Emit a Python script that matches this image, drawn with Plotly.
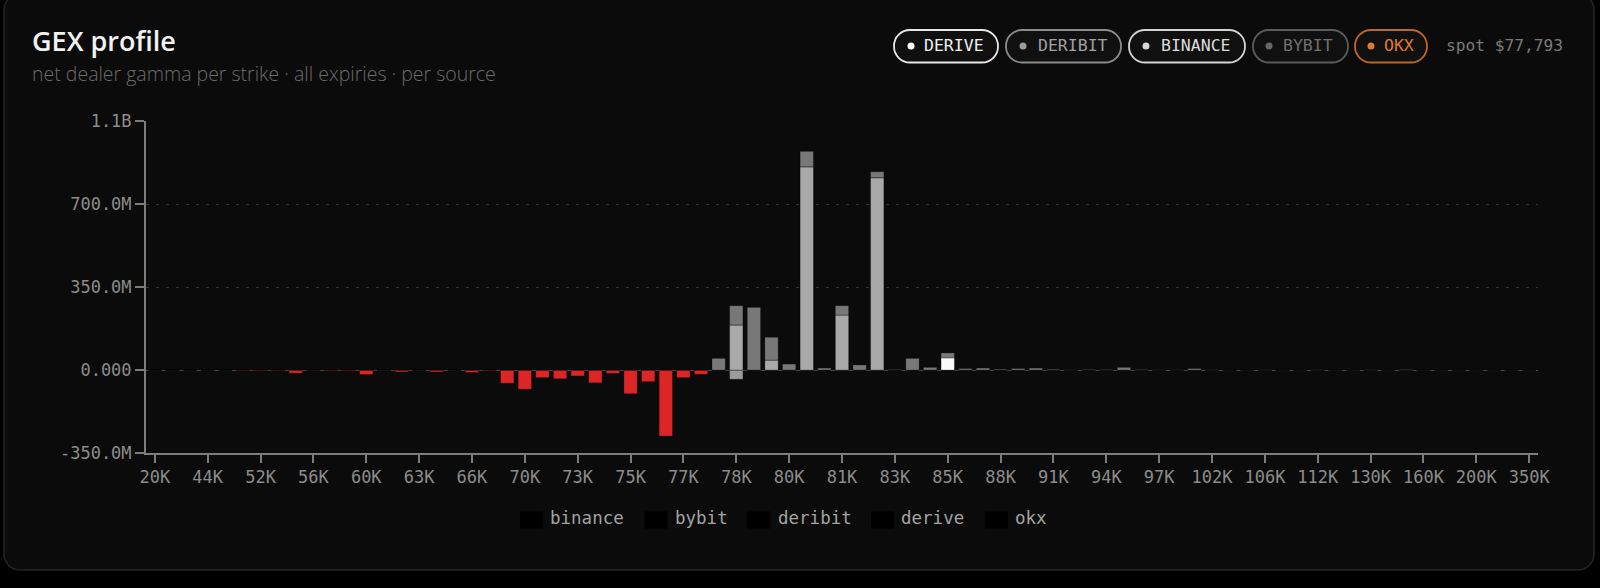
import plotly.graph_objects as go

# ---------------- data ----------------
strikes = [20000, 30000, 40000, 44000, 48000, 50000, 52000, 54000, 55000, 56000,
           57000, 58000, 60000, 61000, 62000, 63000, 64000, 65000, 66000, 68000,
           69000, 70000, 71000, 72000, 73000, 74000, 74500, 75000, 75500, 76000,
           77000, 77500, 78000, 78500, 79000, 79500, 80000, 80500, 81000, 81500,
           82000, 82500, 83000, 84000, 84500, 85000, 86000, 87000, 88000, 89000,
           90000, 91000, 92000, 93000, 94000, 95000, 96000, 97000, 98000, 100000,
           102000, 104000, 105000, 106000, 108000, 110000, 112000, 115000, 120000, 130000,
           140000, 150000, 160000, 170000, 180000, 200000, 250000, 300000, 350000]

x_tick_labels = ["20K", "44K", "52K", "56K", "60K", "63K", "66K", "70K", "73K", "75K",
                 "77K", "78K", "80K", "81K", "83K", "85K", "88K", "91K", "94K", "97K",
                 "102K", "106K", "112K", "130K", "160K", "200K", "350K"]

# net dealer gamma per source, in millions (USD)
binance = [0] * 33 + [-39] + [0] * 45
bybit = [0] * 79
deribit = [0, 0, 0, 0, 0, -3, -4, -3, -13, -1,
           -4, -4, -19, -1, -8, -1, -8, -1, -10, -4,
           -56, -81, -32, -37, -25, -54, -14, -100, -49, -278,
           -32, -18, 0, 190, 0, 42, 0, 857, 0, 232,
           0, 811, 0, 0, 0, 0, 0, 0, 0, 0,
           0, 0, 0, 0, 0, 0, 0, 0, 0, 0,
           0, 0, 0, 0, 0, 0, 0, 0, 0, 0,
           0, 0, 0, 0, 0, 0, 0, 0, 0]
derive = [0] * 45 + [51] + [0] * 33
okx = [0, 0, 0, 0, 0, 0, 0, 0, 0, 0,
       0, 0, 0, 0, 0, 0, 0, 0, 0, 0,
       0, 0, 0, 0, 0, 0, 0, 0, 0, 0,
       0, 0, 49, 81, 264, 96, 25, 65, 8, 39,
       21, 25, 2, 49, 11, 21, 6, 8, 3, 6,
       8, 3, 1, 2, 2, 11, 2, 1, 1, 6,
       1, 0.5, 0.5, 1, 0.5, 0.5, 1, 0.5, 0.5, 1,
       0.5, 2, 0.5, 0.5, 0.5, 0.5, 0.5, 0.5, 0.5]

source_names = ["binance", "bybit", "deribit", "derive", "okx"]
source_values = [binance, bybit, deribit, derive, okx]
source_colors = ["#9c9c9c", "#5a5a5a", "#a9a9a9", "#fafafa", "#787878"]
NEG_COLOR = "#dc2626"

spot_text = "spot $77,793"
pill_labels = ["DERIVE", "DERIBIT", "BINANCE", "BYBIT", "OKX"]

# ---------------- geometry helpers ----------------
W, H = 1600, 588
ML, MR, MT, MB = 146, 62, 121, 135
PW, PH = W - ML - MR, H - MT - MB


def X(px):
    return (px - ML) / PW


def Y(py):
    return (H - MB - py) / PH


def rrect(x0, y0, x1, y1, r):
    k = 0.5523 * r
    pts = [
        f"M{X(x0 + r)},{Y(y0)}",
        f"L{X(x1 - r)},{Y(y0)}",
        f"C{X(x1 - r + k)},{Y(y0)} {X(x1)},{Y(y0 + r - k)} {X(x1)},{Y(y0 + r)}",
        f"L{X(x1)},{Y(y1 - r)}",
        f"C{X(x1)},{Y(y1 - r + k)} {X(x1 - r + k)},{Y(y1)} {X(x1 - r)},{Y(y1)}",
        f"L{X(x0 + r)},{Y(y1)}",
        f"C{X(x0 + r - k)},{Y(y1)} {X(x0)},{Y(y1 - r + k)} {X(x0)},{Y(y1 - r)}",
        f"L{X(x0)},{Y(y0 + r)}",
        f"C{X(x0)},{Y(y0 + r - k)} {X(x0 + r - k)},{Y(y0)} {X(x0 + r)},{Y(y0)}",
        "Z",
    ]
    return " ".join(pts)


# ---------------- figure ----------------
cats = [str(s) for s in strikes]
totals = [sum(v[i] for v in source_values) for i in range(len(strikes))]

fig = go.Figure()
for name, vals, col in zip(source_names, source_values, source_colors):
    colors = [NEG_COLOR if totals[i] < 0 else col for i in range(len(vals))]
    fig.add_trace(go.Bar(
        x=cats, y=[v * 1e6 for v in vals], name=name,
        marker=dict(color=colors, line=dict(width=1, color="rgba(0,0,0,0.25)")),
        showlegend=False,
    ))

shapes = []
annotations = []

# card
shapes.append(dict(type="path", xref="paper", yref="paper", layer="below",
                   path=rrect(4, -6, 1594, 570, 16),
                   fillcolor="#0b0b0b", line=dict(color="#262626", width=1.5)))

# title
annotations.append(dict(xref="paper", yref="paper", x=X(30), y=Y(41), xanchor="left", yanchor="middle",
                        text="GEX profile", showarrow=False,
                        font=dict(family="Open Sans", size=27, color="#f2f2f2", weight=600)))
annotations.append(dict(xref="paper", yref="paper", x=X(30), y=Y(73), xanchor="left", yanchor="middle",
                        text="net dealer gamma per strike · all expiries · per source", showarrow=False,
                        font=dict(family="Open Sans", size=19.5, color="#6b6b6b", weight=300)))

# pills
pill_boxes = [(894, 998), (1006, 1121), (1129, 1245), (1253, 1348), (1355, 1427)]
pill_border = ["#e8e8e8", "#8c8c8c", "#d4d4d4", "#5c5c5c", "#c2651e"]
pill_text = ["#f0f0f0", "#a2a2a2", "#dcdcdc", "#707070", "#e07b2c"]
pill_dot = ["#ffffff", "#9a9a9a", "#d6d6d6", "#666666", "#e07b2c"]
dot_x = [911, 1023, 1146, 1269, 1371]
text_cx = [954.5, 1072.5, 1196, 1308, 1399]
for lab, (a, b), bc, tc, dc, dx, tx in zip(pill_labels, pill_boxes, pill_border, pill_text, pill_dot, dot_x, text_cx):
    shapes.append(dict(type="path", xref="paper", yref="paper", path=rrect(a, 30, b, 62.5, 16),
                       fillcolor="#101010", line=dict(color=bc, width=1.8)))
    shapes.append(dict(type="circle", xref="paper", yref="paper",
                       x0=X(dx - 3.5), x1=X(dx + 3.5), y0=Y(46 + 3.5), y1=Y(46 - 3.5),
                       fillcolor=dc, line=dict(width=0)))
    annotations.append(dict(xref="paper", yref="paper", x=X(tx), y=Y(45.5), xanchor="center", yanchor="middle",
                            text=lab, showarrow=False,
                            font=dict(family="DejaVu Sans Mono", size=16.5, color=tc)))
annotations.append(dict(xref="paper", yref="paper", x=X(1444), y=Y(45.5), xanchor="left", yanchor="middle",
                        text=spot_text, showarrow=False,
                        font=dict(family="DejaVu Sans Mono", size=16.2, color="#7a7a7a")))

# manual legend
leg_sw = [520, 644.5, 747, 871, 985]
leg_tx = [548, 673, 775.5, 899, 1013]
for name, sx, tx in zip(source_names, leg_sw, leg_tx):
    shapes.append(dict(type="rect", xref="paper", yref="paper",
                       x0=X(sx), x1=X(sx + 23), y0=Y(528.5), y1=Y(511.5),
                       fillcolor="#000000", line=dict(width=0)))
    annotations.append(dict(xref="paper", yref="paper", x=X(tx), y=Y(518), xanchor="left", yanchor="middle",
                            text=name, showarrow=False,
                            font=dict(family="DejaVu Sans Mono", size=17.5, color="#a3a3a3")))

fig.update_layout(
    width=W, height=H,
    margin=dict(l=ML, r=MR, t=MT, b=MB, pad=0),
    paper_bgcolor="#000000",
    plot_bgcolor="#0b0b0b",
    barmode="relative",
    bargap=0.245,
    showlegend=False,
    shapes=shapes,
    annotations=annotations,
    font=dict(family="DejaVu Sans Mono", color="#8c8c8c"),
    xaxis=dict(
        type="category", categoryorder="array", categoryarray=cats,
        range=[-0.5, len(cats) - 0.5],
        tickmode="array", tickvals=cats[::3], ticktext=x_tick_labels,
        showline=True, linecolor="#7c7c7c", linewidth=2,
        ticks="outside", ticklen=8, tickwidth=2, tickcolor="#7c7c7c",
        tickfont=dict(family="DejaVu Sans Mono", size=17, color="#8c8c8c"),
        showgrid=False, zeroline=False, fixedrange=True,
    ),
    yaxis=dict(
        range=[-350e6, 1050e6],
        tickmode="array",
        tickvals=[-350e6, 0, 350e6, 700e6, 1050e6],
        ticktext=["-350.0M", "0.000", "350.0M", "700.0M", "1.1B"],
        showline=True, linecolor="#7c7c7c", linewidth=2,
        ticks="outside", ticklen=9, tickwidth=2, tickcolor="#7c7c7c",
        tickfont=dict(family="DejaVu Sans Mono", size=17, color="#8c8c8c"),
        showgrid=True, gridcolor="#333333", gridwidth=1, griddash="3px,7px",
        zeroline=True, zerolinecolor="#444444", zerolinewidth=1,
        fixedrange=True,
    ),
)

fig.write_html("out.html", config={"displayModeBar": False},
               post_script="document.body.style.margin='0px';")
